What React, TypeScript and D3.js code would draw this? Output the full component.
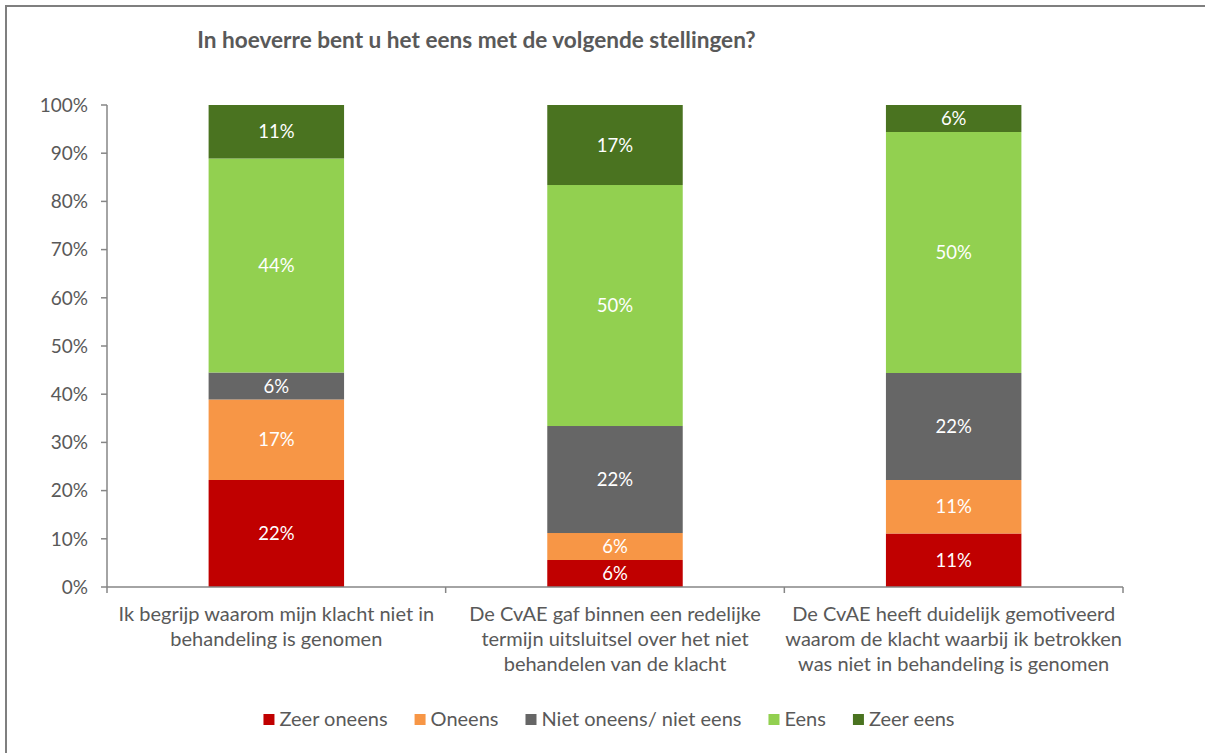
import React, { useRef, useEffect } from "react";
import * as d3 from "d3";

const categories = [
  ["Ik begrijp waarom mijn klacht niet in", "behandeling is genomen"],
  ["De CvAE gaf binnen een redelijke", "termijn uitsluitsel over het niet", "behandelen van de klacht"],
  ["De CvAE heeft duidelijk gemotiveerd", "waarom de klacht waarbij ik betrokken", "was niet in behandeling is genomen"],
];
const seriesNames = ["Zeer oneens", "Oneens", "Niet oneens/ niet eens", "Eens", "Zeer eens"];
const seriesColors = ["#C00000", "#F79646", "#666666", "#92D050", "#4A7320"];
const zeerOneens = [22.2, 5.6, 11.1];
const oneens = [16.7, 5.6, 11.1];
const neutraal = [5.6, 22.2, 22.2];
const eens = [44.4, 50.0, 50.0];
const zeerEens = [11.1, 16.7, 5.6];
const yTicks = [0, 10, 20, 30, 40, 50, 60, 70, 80, 90, 100];

const FONT = "Lato, 'Open Sans', sans-serif";
const TEXT = "#595959";

const App = () => {
  const svgRef = useRef(null);

  useEffect(() => {
    const svg = d3.select(svgRef.current);
    svg.selectAll("*").remove();
    const width = 1205;
    const height = 753;
    const m = { left: 107, right: 1123, top: 105, bottom: 587 };

    // outer border (right and bottom fall outside the picture)
    svg.append("rect")
      .attr("x", 6).attr("y", 6).attr("width", width + 10).attr("height", height + 10)
      .attr("fill", "#fff").attr("stroke", "#7f7f7f").attr("stroke-width", 2);

    svg.append("text")
      .attr("x", 476.5).attr("y", 48)
      .attr("text-anchor", "middle")
      .attr("font-family", FONT).attr("font-weight", "bold").attr("font-size", 22.6)
      .attr("fill", TEXT)
      .text("In hoeverre bent u het eens met de volgende stellingen?");

    const x = d3.scaleBand()
      .domain(categories.map((_, i) => String(i)))
      .range([m.left, m.right])
      .paddingInner(0.6).paddingOuter(0.3);
    const step = (m.right - m.left) / categories.length;
    const y = d3.scaleLinear().domain([0, 100]).range([m.bottom, m.top]);

    const values = [zeerOneens, oneens, neutraal, eens, zeerEens];
    const table = categories.map((_, i) => {
      const row = { key: String(i) };
      seriesNames.forEach((s, j) => (row[s] = values[j][i]));
      return row;
    });
    const stacked = d3.stack().keys(seriesNames)(table);

    const g = svg.append("g");
    stacked.forEach((layer, j) => {
      layer.forEach((d, i) => {
        const top = Math.min(d[1], 100);
        g.append("rect")
          .attr("x", x(String(i)))
          .attr("y", y(top))
          .attr("width", x.bandwidth())
          .attr("height", y(d[0]) - y(top))
          .attr("fill", seriesColors[j]);
        g.append("text")
          .attr("x", x(String(i)) + x.bandwidth() / 2)
          .attr("y", (y(d[0]) + y(top)) / 2)
          .attr("dy", "0.36em")
          .attr("text-anchor", "middle")
          .attr("font-family", FONT).attr("font-size", 18.5)
          .attr("fill", "#fff")
          .text(`${Math.round(d[1] - d[0])}%`);
      });
    });

    // y axis
    const axisColor = "#868686";
    svg.append("line")
      .attr("x1", m.left).attr("x2", m.left).attr("y1", m.top).attr("y2", m.bottom)
      .attr("stroke", axisColor).attr("stroke-width", 1.5);
    yTicks.forEach((t) => {
      svg.append("line")
        .attr("x1", m.left - 6).attr("x2", m.left).attr("y1", y(t)).attr("y2", y(t))
        .attr("stroke", axisColor).attr("stroke-width", 1.5);
      svg.append("text")
        .attr("x", 88).attr("y", y(t)).attr("dy", "0.36em")
        .attr("text-anchor", "end")
        .attr("font-family", FONT).attr("font-size", 19)
        .attr("fill", TEXT)
        .text(`${t}%`);
    });

    // x axis
    svg.append("line")
      .attr("x1", m.left).attr("x2", m.right).attr("y1", m.bottom).attr("y2", m.bottom)
      .attr("stroke", axisColor).attr("stroke-width", 1.5);
    d3.range(categories.length + 1).forEach((k) => {
      const xx = m.left + k * step;
      svg.append("line")
        .attr("x1", xx).attr("x2", xx).attr("y1", m.bottom).attr("y2", m.bottom + 6)
        .attr("stroke", axisColor).attr("stroke-width", 1.5);
    });
    categories.forEach((lines, i) => {
      const t = svg.append("text")
        .attr("text-anchor", "middle")
        .attr("font-family", FONT).attr("font-size", 20)
        .attr("fill", TEXT);
      lines.forEach((ln, k) => {
        t.append("tspan")
          .attr("x", x(String(i)) + x.bandwidth() / 2)
          .attr("y", 621 + k * 25)
          .text(ln);
      });
    });

    // legend
    const lg = svg.append("g");
    let cx = 0;
    seriesNames.forEach((s, j) => {
      lg.append("rect")
        .attr("x", cx).attr("y", 714).attr("width", 11).attr("height", 11)
        .attr("fill", seriesColors[j]);
      const t = lg.append("text")
        .attr("x", cx + 16).attr("y", 726)
        .attr("font-family", FONT).attr("font-size", 20)
        .attr("fill", TEXT)
        .text(s);
      const w = t.node().getComputedTextLength();
      cx += 16 + w + 27;
    });
    const total = cx - 27;
    lg.attr("transform", `translate(${609 - total / 2},0)`);
  }, []);

  return (
    <svg
      ref={svgRef}
      width={1205}
      height={753}
      style={{ position: "absolute", left: 0, top: 0, background: "#fff" }}
    ></svg>
  );
};

export default App;
